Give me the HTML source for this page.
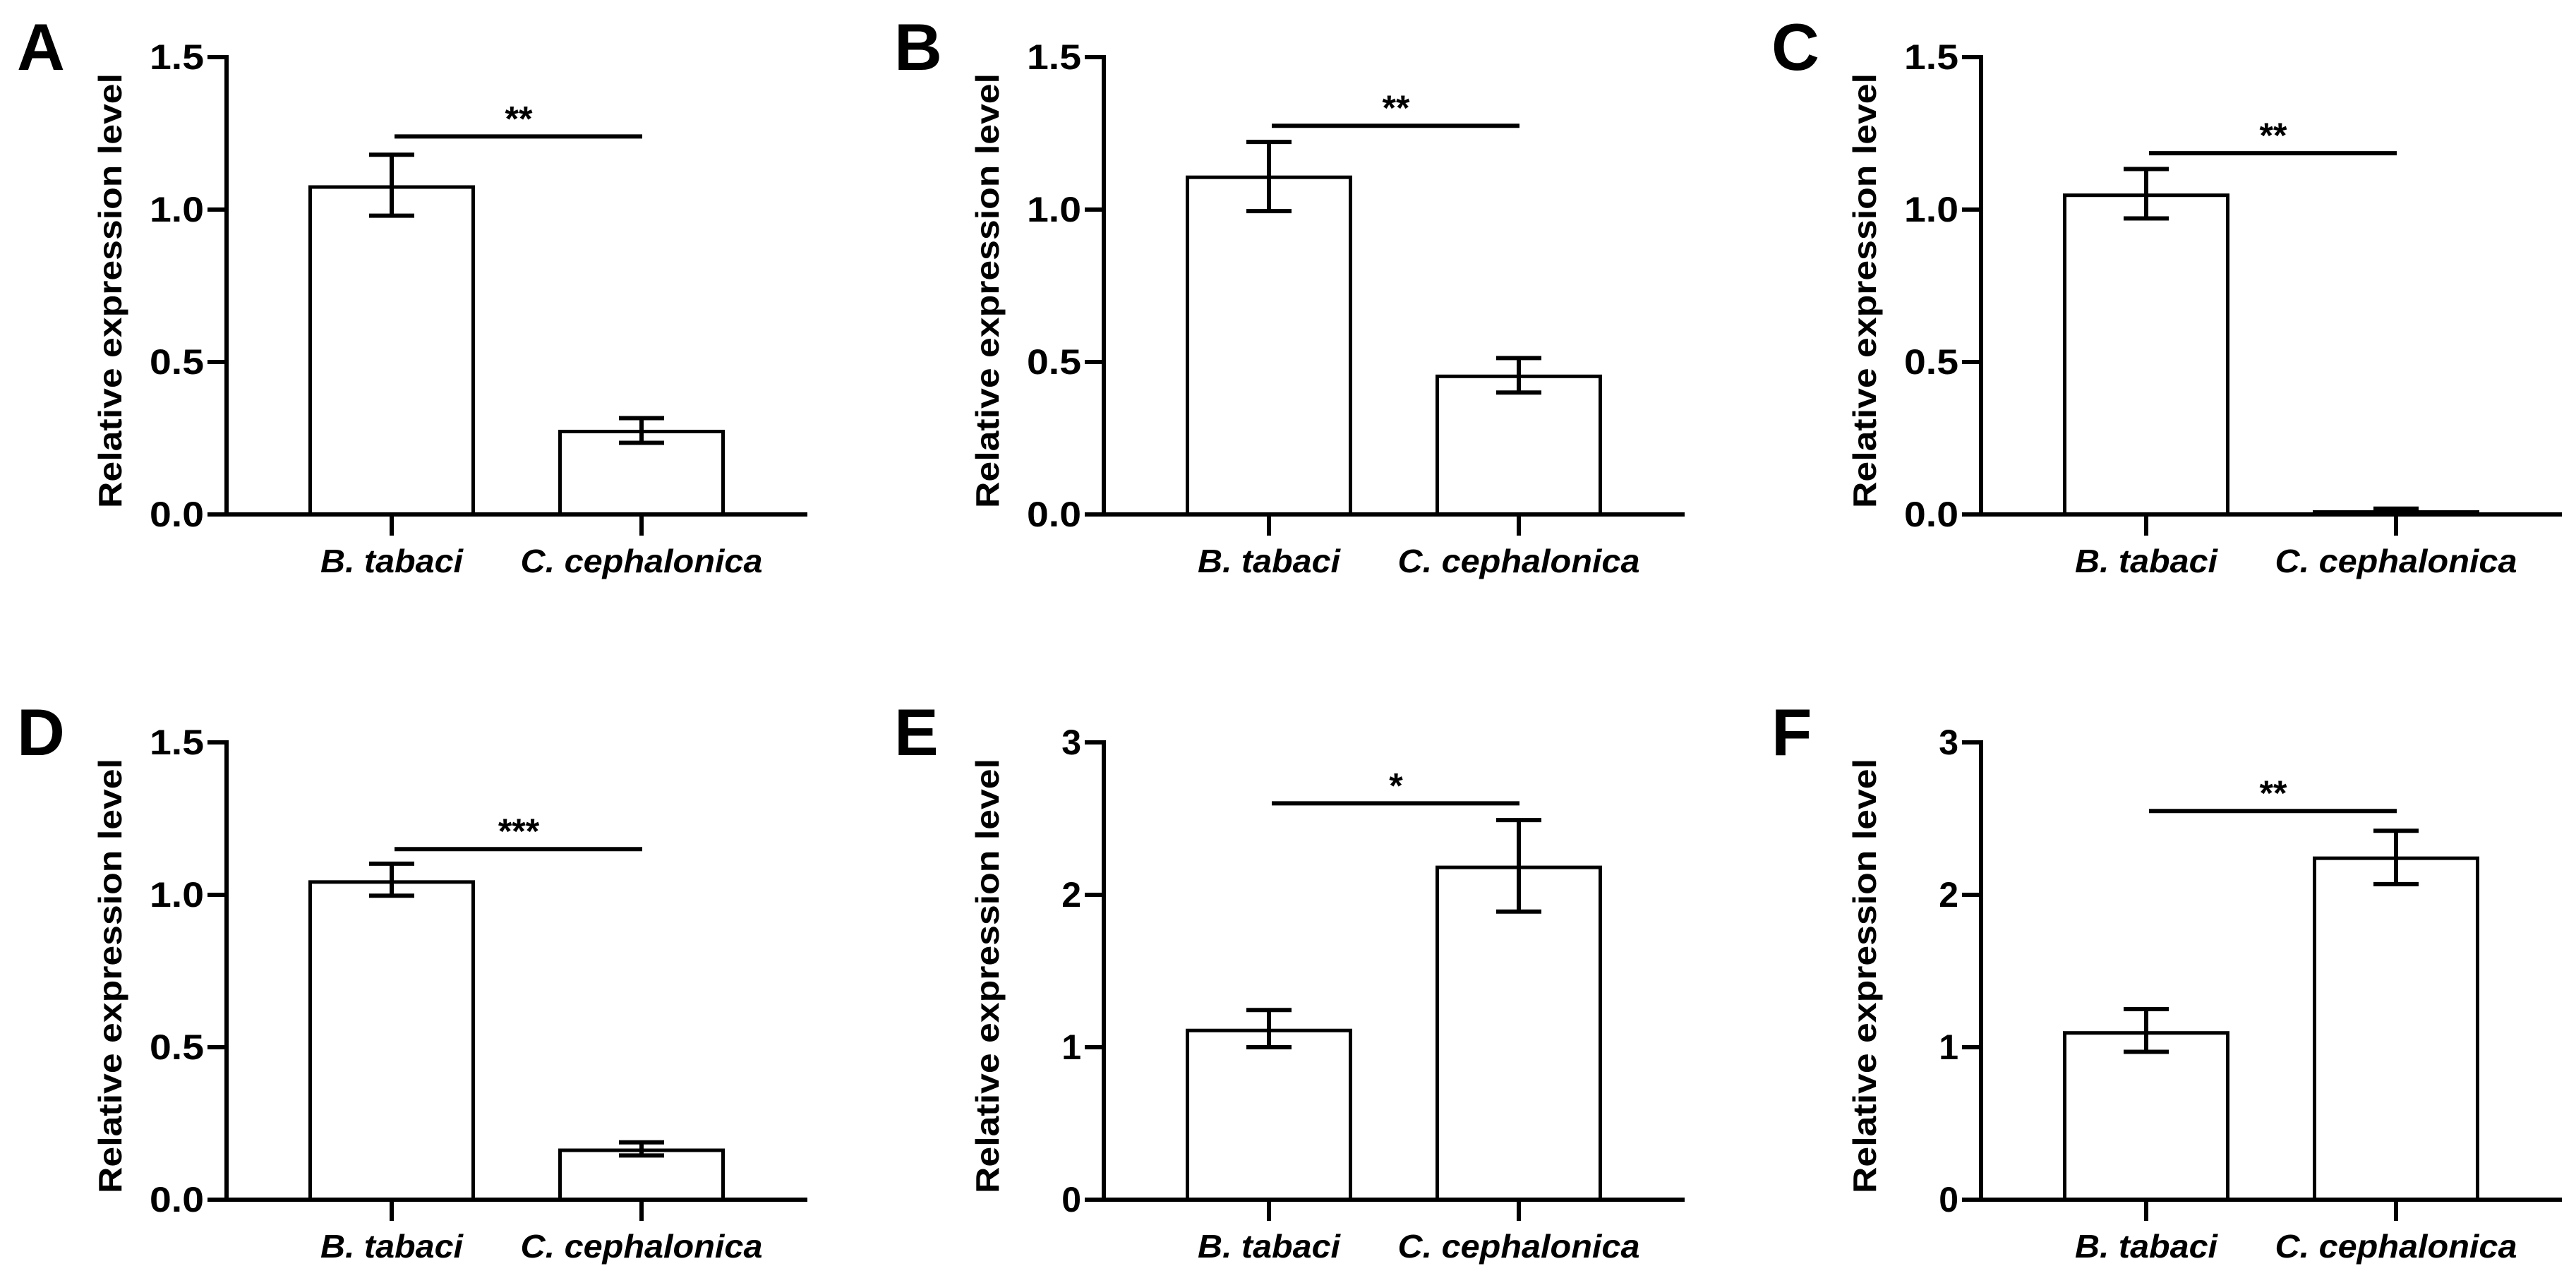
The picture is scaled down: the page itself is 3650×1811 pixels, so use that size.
<!DOCTYPE html>
<html><head><meta charset="utf-8"><style>
html,body{margin:0;padding:0;background:#fff;}
svg{display:block;}
text{font-family:"Liberation Sans",Arial,sans-serif;font-weight:bold;fill:#000;}
</style></head>
<body>
<svg id="fig" width="3650" height="1811" viewBox="0 0 3650 1811" xmlns="http://www.w3.org/2000/svg"></svg>
<script>
const panelLetters = ["A","B","C","D","E","F"];
const categories = ["B. tabaci","C. cephalonica"];
const meanValues = [[1.074,0.272],[1.106,0.453],[1.047,0.008],[1.042,0.162],[1.11,2.18],[1.094,2.24]];
const errUpper = [[1.18,0.316],[1.222,0.513],[1.133,0.019],[1.102,0.188],[1.244,2.49],[1.25,2.42]];
const errLower = [[0.98,0.235],[0.995,0.40],[0.971,0.002],[0.997,0.145],[1.0,1.89],[0.97,2.07]];
const yMax = [1.5,1.5,1.5,1.5,3,3];
const tickLabelsSmall = ["0.0","0.5","1.0","1.5"];
const tickLabelsLarge = ["0","1","2","3"];
const sigLabels = ["**","**","**","***","*","**"];
const sigValues = [1.24,1.275,1.185,1.15,2.6,2.55];

const NS = "http://www.w3.org/2000/svg";
const svg = document.getElementById("fig");
function mk(tag, attrs, parent){
  const e = document.createElementNS(NS, tag);
  for (const k in attrs) e.setAttribute(k, attrs[k]);
  (parent||svg).appendChild(e);
  return e;
}
for (let p=0;p<6;p++){
  const ox = (p%3)*1243, oy = Math.floor(p/3)*971;
  const g = mk("g",{transform:`translate(${ox},${oy})`});
  
  
  const y0 = 729, yTop = 81, axX = 321;
  const ys = v => y0 - (v / yMax[p]) * (y0 - yTop);
  const xCenters = [555, 909];
  const barW = 231;
  // letter
  const L = mk("text",{x:24,y:99,"font-size":94},g);
  L.textContent = panelLetters[p];
  
  
  // y title
  const yt = mk("text",{x:0,y:0,"font-size":46,"text-anchor":"middle",textLength:616,lengthAdjust:"spacingAndGlyphs",transform:`translate(172,412) rotate(-90)`},g);
  yt.textContent = "Relative expression level";
  
  
  // ticks
  const labs = yMax[p]===3 ? tickLabelsLarge : tickLabelsSmall;
  labs.forEach((lb,i)=>{
    const v = i * yMax[p] / 3;
    const y = ys(v);
    const t = mk("line",{x1:294,x2:axX,y1:y,y2:y,stroke:"#000","stroke-width":6},g);
    
    
    const tx = mk("text",{x:289,y:y+17,"font-size":50,"text-anchor":"end"},g);
    if (lb.length>1){ tx.setAttribute("textLength",77); tx.setAttribute("lengthAdjust","spacingAndGlyphs"); }
    tx.textContent = lb;
    
    
  });
  // bars
  for (let c=0;c<2;c++){
    const xc = xCenters[c];
    const top = ys(meanValues[p][c]);
    const b = mk("rect",{x:xc-barW/2,y:top,width:barW,height:y0-top,fill:"#fff",stroke:"#000","stroke-width":5},g);
    
    
    const eu = ys(errUpper[p][c]), el = ys(errLower[p][c]);
    const e1 = mk("path",{d:`M${xc},${eu}V${el}M${xc-32},${eu}H${xc+32}M${xc-32},${el}H${xc+32}`,stroke:"#000","stroke-width":6,fill:"none"},g);
    
    
    const ct = mk("line",{x1:xc,x2:xc,y1:y0,y2:759,stroke:"#000","stroke-width":6},g);
    
    
    const cl = mk("text",{x:xc,y:811,"font-size":46,"font-style":"italic","text-anchor":"middle",textLength:c===0?202:343,lengthAdjust:"spacingAndGlyphs"},g);
    cl.textContent = categories[c];
    
    
  }
  // axes
  const ax = mk("path",{d:`M${axX},${yTop-3}V${y0}H1144`,stroke:"#000","stroke-width":6,fill:"none"},g);
  
  
  // significance
  const sy = ys(sigValues[p]);
  const sl = mk("line",{x1:559,x2:910,y1:sy,y2:sy,stroke:"#000","stroke-width":6},g);
  
  
  const st = mk("text",{x:735,y:sy-8,"font-size":50,"text-anchor":"middle"},g);
  st.textContent = sigLabels[p];
  
  
}
</script>
</body></html>
